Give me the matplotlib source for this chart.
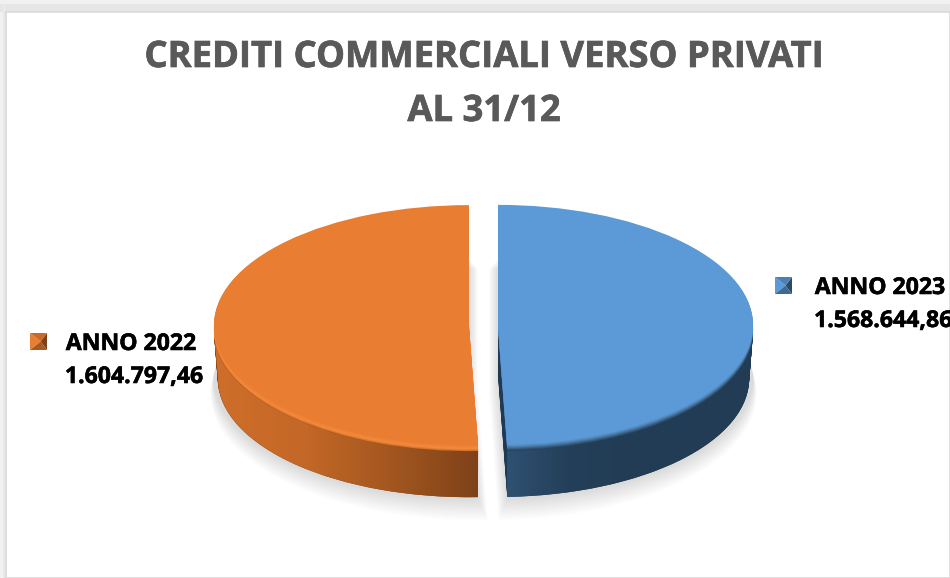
import numpy as np
import matplotlib
matplotlib.use('Agg')
import matplotlib.pyplot as plt
import matplotlib.patheffects as pe
from matplotlib.colors import to_rgb, LinearSegmentedColormap
from matplotlib.patches import Polygon, Rectangle

title_lines = ['CREDITI COMMERCIALI VERSO PRIVATI', 'AL 31/12']
categories = ['ANNO 2023', 'ANNO 2022']
value_labels = ['1.568.644,86', '1.604.797,46']
values = [1568644.86, 1604797.46]
colors = ['#5b9ad6', '#e97d31']

explode = 0.057
depth = 0.45
bevel = 0.05
taper = 0.016

def mix(c1, c2, t):
    c1 = np.array(to_rgb(c1))
    c2 = np.array(to_rgb(c2))
    return tuple(c1 + (c2 - c1) * t)

fig = plt.figure(figsize=(9.5, 5.78), dpi=100, facecolor='#f1f1f1')

# background in pixel coords
bg = fig.add_axes([0, 0, 1, 1], zorder=0)
bg.set_xlim(0, 950)
bg.set_ylim(578, 0)
bg.axis('off')
bg.add_patch(Rectangle((0, 4), 950, 8, fc='#e6e6e6', ec='none'))
bg.add_patch(Rectangle((3, 4), 3, 574, fc='#e9e9e9', ec='none'))
bg.add_patch(Rectangle((6, 12), 944, 566, fc='white', ec='#d9d9d9', lw=1.2))

# pie axes: 255 px per unit in x, 120 px per unit in y
ax = fig.add_axes([139.25 / 950, 37 / 578, 688.5 / 950, 360 / 578], zorder=1)
ax.patch.set_alpha(0)


def draw(colors_, offset=0.0, radius=1.0, expl=explode):
    ax.pie(values, colors=colors_, startangle=90, counterclock=False,
           explode=[expl / radius, expl / radius], center=(0, -offset), radius=radius,
           wedgeprops={'linewidth': 0})


# soft shadow
for t in np.linspace(1, 0, 18):
    draw([(0, 0, 0, 0.009)] * 2, offset=depth + 0.13 * t, radius=1 + 0.05 * t, expl=0.057 - 0.035 * t)

# extruded side
for d in np.linspace(depth, bevel, 45):
    draw(['#1f3a54', '#7f4219'], offset=d, radius=1 - taper * (d - bevel) / (depth - bevel))

# gradients on the outer wall, wedge angles come from the values
frac = np.array(values) / sum(values)
edges = 90 - 360 * np.concatenate([[0], np.cumsum(frac)])
ramps = [['#2f5172', '#243f59', '#223c55', '#223c55', '#223c55'],
         ['#cf6e2a', '#c46827', '#a3571f', '#7e4119']]
for i in range(2):
    lo, hi = edges[i + 1], edges[i]
    mid = np.radians((lo + hi) / 2)
    th = np.radians(np.linspace(max(lo, -180), min(hi, 0), 120))
    ox = explode * np.cos(mid)
    oy = explode * np.sin(mid)
    x = np.cos(th)
    y = np.sin(th)
    pts = np.vstack([np.c_[x + ox, y + oy - bevel],
                     np.c_[x[::-1] * (1 - taper) + ox, y[::-1] * (1 - taper) + oy - depth]])
    cmap = LinearSegmentedColormap.from_list('side%d' % i, ramps[i])
    im = ax.imshow(np.linspace(0, 1, 256)[None, :], cmap=cmap, aspect='auto',
                   extent=((x + ox).min(), (x + ox).max(), -1.8, 1.2), zorder=1.2)
    im.set_clip_path(Polygon(pts, closed=True, transform=ax.transData))

# bevel along the rim
rim_blue = ['#2a4763', '#3d668d', '#5286ba', colors[0]]
rim_orange = ['#d06f2b', '#f58b3c', '#f08437', colors[1]]
n_bevel = 8
for k in range(n_bevel):
    t = k / (n_bevel - 1) * 3
    j = min(int(t), 2)
    blue = mix(rim_blue[j], rim_blue[j + 1], t - j)
    orange = mix(rim_orange[j], rim_orange[j + 1], t - j)
    draw([blue, orange], offset=bevel * (1 - k / (n_bevel - 1)))
for p in ax.patches:
    p.set_zorder(1)
n = len(ax.patches)
for p in ax.patches[-2 * n_bevel:]:
    p.set_zorder(1.5)

ax.set_aspect('auto')
ax.set_xlim(-1.35, 1.35)
ax.set_ylim(-1.8, 1.2)
ax.axis('off')

# text and legend keys in pixel coords
top = fig.add_axes([0, 0, 1, 1], zorder=2)
top.set_xlim(0, 950)
top.set_ylim(578, 0)
top.axis('off')
top.patch.set_alpha(0)

font = 'Open Sans'
heavy = [pe.withStroke(linewidth=0.5, foreground='#595959')]
heavy_k = [pe.withStroke(linewidth=0.4, foreground='black')]
for yy, line in zip([58, 112], title_lines):
    top.text(484, yy, line, ha='center', va='center', fontsize=26.2,
             fontweight='bold', color='#595959', family=font, path_effects=heavy)

label_x = [880, 131]
label_y = [288, 344]
key_x = [775, 30]
key_y = [277, 333]
key_cols = [('#5b9ad6', '#2b4a68', '#4a80b5', '#3d6a95'), ('#e97d31', '#7e4119', '#c96a28', '#a9591f')]
for i in range(2):
    top.text(label_x[i], label_y[i], categories[i], ha='center', va='center', fontsize=16.6,
             fontweight='bold', color='black', family=font, path_effects=heavy_k)
    top.text(label_x[i] + 3, label_y[i] + 33, value_labels[i], ha='center', va='center', fontsize=16.6,
             fontweight='bold', color='black', family=font, path_effects=heavy_k)
    x0, y0, s = key_x[i], key_y[i], 17
    cx, cy = x0 + s * 0.62, y0 + s / 2
    c = key_cols[i]
    top.add_patch(Polygon([(x0, y0), (x0, y0 + s), (cx, cy)], fc=c[0], ec='none'))
    top.add_patch(Polygon([(x0 + s, y0), (x0 + s, y0 + s), (cx, cy)], fc=c[1], ec='none'))
    top.add_patch(Polygon([(x0, y0), (x0 + s, y0), (cx, cy)], fc=c[2], ec='none'))
    top.add_patch(Polygon([(x0, y0 + s), (x0 + s, y0 + s), (cx, cy)], fc=c[3], ec='none'))

fig.savefig('out.png', dpi=100, facecolor=fig.get_facecolor())
